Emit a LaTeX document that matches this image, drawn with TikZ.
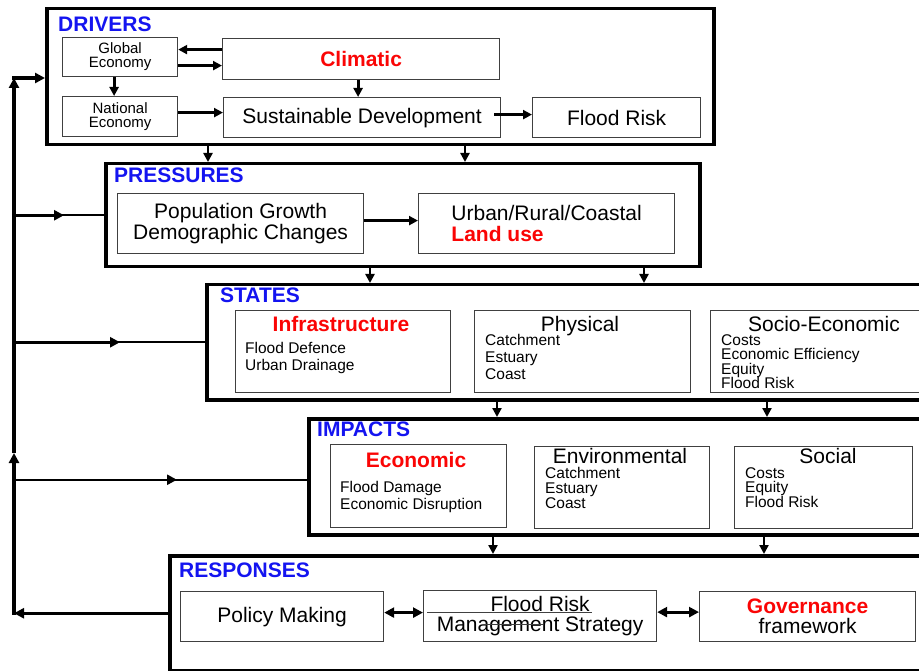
\documentclass[tikz,border=0pt]{standalone}
\usepackage{fontspec}
\setmainfont{Liberation Sans}
\usetikzlibrary{arrows.meta,positioning,calc}
\definecolor{hdblue}{RGB}{20,20,240}
\definecolor{keyred}{RGB}{250,5,5}
\definecolor{boxgrey}{gray}{0.25}
\newcommand{\hdsize}{\fontsize{21}{21}\selectfont}
\newcommand{\itemsize}{\fontsize{15.5}{17}\selectfont}

\tikzset{
  stagebox/.style={draw, line width=3.5pt, inner sep=0pt, anchor=north west},
  partbox/.style={draw=boxgrey, line width=1.2pt, inner sep=0pt, anchor=north west, align=center, font=\hdsize},
  stagehead/.style={text=hdblue, font=\hdsize\bfseries, anchor=base west, inner sep=0pt},
  redword/.style={text=keyred, font=\hdsize\bfseries, anchor=base, inner sep=0pt},
  boxtitle/.style={font=\hdsize, anchor=base, inner sep=0pt},
  itemlist/.style={font=\itemsize, align=left, anchor=north west, inner sep=0pt},
  flowarrow/.style={line width=2.8pt, -{Triangle[length=9pt,width=9pt]}},
  twoway/.style={line width=2.8pt, {Triangle[length=10pt,width=10pt]}-{Triangle[length=10pt,width=10pt]}},
  feedline/.style={line width=3.2pt},
  feedtip/.style={line width=3.2pt, -{Triangle[length=10pt,width=10pt]}},
}

\begin{document}
\begin{tikzpicture}[x=1pt,y=-1pt]
\useasboundingbox (0,0) rectangle (919,671);
\clip (0,0) rectangle (919,671);

% drivers
\node[stagebox, minimum width=667pt, minimum height=136pt] (drv) at (45,7) {};
\node[stagehead] (drvhd) at (58,32) {DRIVERS};
\node[partbox, minimum width=115pt, minimum height=39pt, font=\fontsize{15}{14}\selectfont] (glob) at (62,37) {Global\\Economy};
\node[partbox, minimum width=277pt, minimum height=41pt, text=keyred, font=\hdsize\bfseries] (clim) at (222,38) {Climatic};
\node[partbox, minimum width=115pt, minimum height=40pt, font=\fontsize{15}{14}\selectfont] (natl) at (62,96) {National\\Economy};
\node[partbox, minimum width=277pt, minimum height=40pt] (sust) at (223,97) {Sustainable Development};
\node[partbox, minimum width=168pt, minimum height=40pt] (frisk) at (532,97) {Flood Risk};
\draw[flowarrow] ([yshift=9.5pt]clim.west) -- ([yshift=9.5pt]clim.west -| glob.east);
\draw[flowarrow] ([yshift=-8.5pt]glob.east) -- ([yshift=-8.5pt]glob.east -| clim.west);
\draw[flowarrow] ([xshift=-6pt]glob.south) -- ([xshift=-6pt]natl.north);
\draw[flowarrow] ([xshift=-3pt]clim.south) -- ([xshift=-3pt]clim.south |- sust.north);
\draw[flowarrow] ([yshift=4pt]natl.east) -- ([yshift=4pt]natl.east -| sust.west);
\draw[flowarrow] ([xshift=-7pt,yshift=3pt]sust.east) -- ([yshift=3pt]sust.east -| frisk.west);

% pressures
\node[stagebox, minimum width=594pt, minimum height=103pt] (prs) at (104,162) {};
\node[stagehead] (prshd) at (114,183) {PRESSURES};
\node[partbox, minimum width=246pt, minimum height=60pt, font=\fontsize{21}{16}\selectfont] (popn) at (117,193) {Population Growth\\Demographic Changes};
\node[partbox, minimum width=256pt, minimum height=60pt, align=left, font=\fontsize{21}{21}\selectfont] (land) at (418,193) {Urban/Rural/Coastal\\\textcolor{keyred}{\bfseries Land use}};
\draw[flowarrow] ([yshift=3pt]popn.east) -- ([yshift=3pt]popn.east -| land.west);
\draw[flowarrow] (drv.south -| 208,0) -- (prs.north -| 208,0);
\draw[flowarrow] (drv.south -| 465,0) -- (prs.north -| 465,0);

% states
\node[stagebox, minimum width=740pt, minimum height=115pt] (sts) at (205,283) {};
\node[stagehead] (stshd) at (220,302) {STATES};
\node[partbox, minimum width=215pt, minimum height=82pt] (infra) at (235,310) {};
\node[redword] (infrahd) at (341,331) {Infrastructure};
\node[itemlist] (infralst) at (245,342) {Flood Defence\\Urban Drainage};
\node[partbox, minimum width=216pt, minimum height=82pt] (phys) at (474,310) {};
\node[boxtitle] (physhd) at (580,331) {Physical};
\node[itemlist] (physlst) at (485,334) {Catchment\\Estuary\\Coast};
\node[partbox, minimum width=240pt, minimum height=82pt] (socio) at (710,310) {};
\node[boxtitle] (sociohd) at (824,331) {Socio-Economic};
\node[itemlist, font=\fontsize{15.5}{14.5}\selectfont] (sociolst) at (721,334) {Costs\\Economic Efficiency\\Equity\\Flood Risk};
\draw[flowarrow] (prs.south -| 370,0) -- (sts.north -| 370,0);
\draw[flowarrow] (prs.south -| 644,0) -- (sts.north -| 644,0);

% impacts
\node[stagebox, minimum width=640pt, minimum height=116pt] (imp) at (307,417) {};
\node[stagehead] (imphd) at (317,436) {IMPACTS};
\node[partbox, minimum width=176pt, minimum height=83pt] (econ) at (330,444) {};
\node[redword] (econhd) at (416,467) {Economic};
\node[itemlist] (econlst) at (340,481) {Flood Damage\\Economic Disruption};
\node[partbox, minimum width=175pt, minimum height=82pt] (envr) at (534,446) {};
\node[boxtitle] (envrhd) at (620,463) {Environmental};
\node[itemlist, font=\fontsize{15.5}{15}\selectfont] (envrlst) at (545,467) {Catchment\\Estuary\\Coast};
\node[partbox, minimum width=178pt, minimum height=82pt] (socl) at (734,446) {};
\node[boxtitle] (soclhd) at (828,463) {Social};
\node[itemlist, font=\fontsize{15.5}{14}\selectfont] (socllst) at (745,467) {Costs\\Equity\\Flood Risk};
\draw[flowarrow] (sts.south -| 497,0) -- (imp.north -| 497,0);
\draw[flowarrow] (sts.south -| 767,0) -- (imp.north -| 767,0);

% responses
\node[stagebox, minimum width=780pt, minimum height=115pt] (rsp) at (168,554) {};
\node[stagehead] (rsphd) at (179,577) {RESPONSES};
\node[partbox, minimum width=203pt, minimum height=50pt] (policy) at (180,591) {Policy Making};
\node[partbox, minimum width=233pt, minimum height=51pt, font=\fontsize{21}{20}\selectfont] (frms) at (423,590) {Flood Risk\\Management Strategy};
\node[partbox, minimum width=216pt, minimum height=50pt, font=\fontsize{21}{20}\selectfont] (gov) at (699,591) {\textcolor{keyred}{\bfseries Governance}\\framework};
\draw[line width=0.9pt, boxgrey] ([xshift=4pt,yshift=3.5pt]frms.west) -- ++(165,0);
\draw[line width=0.9pt, boxgrey] ([xshift=62pt,yshift=-8.5pt]frms.west) -- ++(58,0);
\draw[twoway] ([yshift=4pt]policy.east) -- ([yshift=4pt]policy.east -| frms.west);
\draw[twoway] ([yshift=4pt]frms.east) -- ([yshift=4pt]frms.east -| gov.west);
\draw[flowarrow] (imp.south -| 493,0) -- (rsp.north -| 493,0);
\draw[flowarrow] (imp.south -| 764,0) -- (rsp.north -| 764,0);

% feedback loop
\coordinate (fbbot) at (rsp.west -| 14,0);
\coordinate (fbmid) at (14,453);
\coordinate (fbtop) at (14,78);
\draw[feedtip] (rsp.west) -- (fbbot);
\draw[feedtip] ([yshift=-1.6pt]fbbot) -- (fbmid);
\draw[feedtip] (fbmid) -- (fbtop);
\draw[feedtip] ([xshift=-1.6pt]fbtop) -- (fbtop -| drv.west);
\draw[line width=2pt] (fbtop |- prs.west) -- (prs.west);
\draw[feedtip] (fbtop |- prs.west) -- ++(50,0);
\draw[line width=2pt] (fbtop |- sts.west) -- (sts.west);
\draw[feedtip] (fbtop |- sts.west) -- ++(106,0);
\draw[line width=2.4pt] ([yshift=-3pt]fbtop |- imp.west) -- ([yshift=-3pt]imp.west);
\draw[line width=2.4pt, -{Triangle[length=10pt,width=10pt]}] ([yshift=-3pt]fbtop |- imp.west) -- ++(163,0);
\end{tikzpicture}
\end{document}
